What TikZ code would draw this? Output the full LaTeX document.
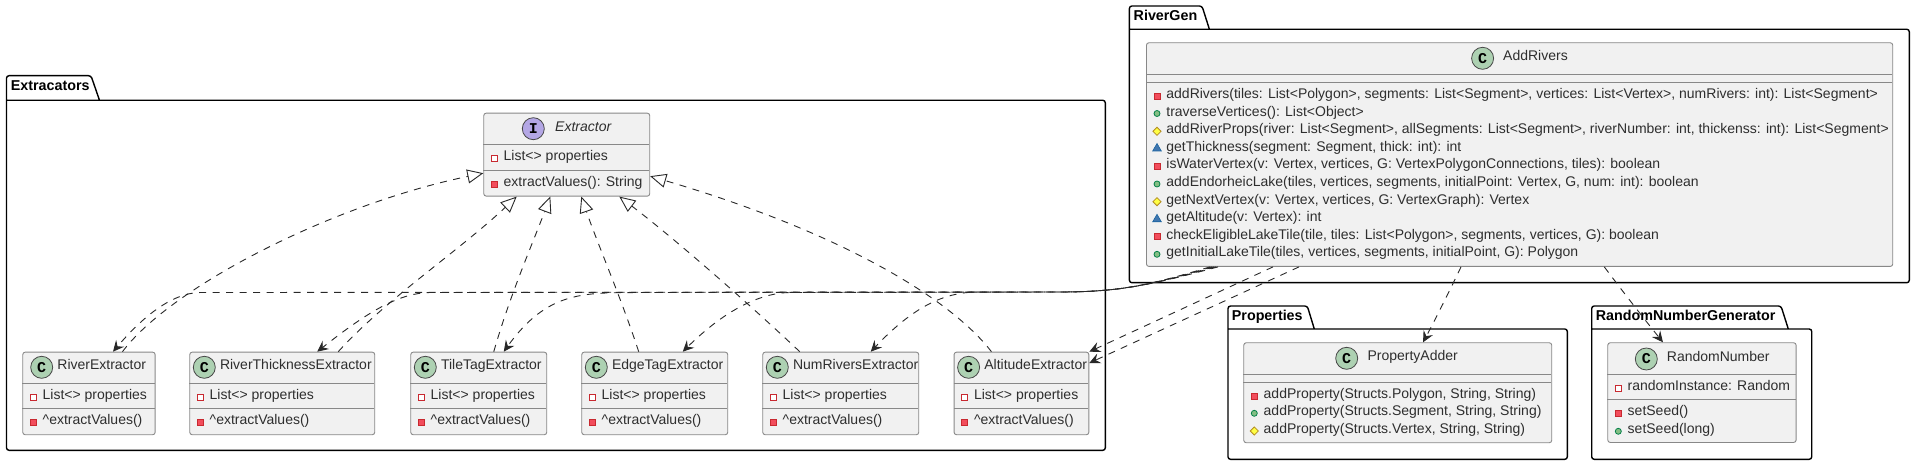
\documentclass[tikz,border=0pt]{standalone}
\usepackage{fontspec}
\setmainfont{Liberation Sans}
\setmonofont{Liberation Mono}
\usetikzlibrary{shapes.geometric, arrows.meta, positioning, calc}
\definecolor{umlBox}{RGB}{241, 241, 241}
\definecolor{umlBorder}{RGB}{136, 136, 136}
\definecolor{umlLine}{RGB}{40, 40, 40}
\definecolor{umlClassSpot}{RGB}{173, 209, 178}
\definecolor{umlIfaceSpot}{RGB}{180, 167, 229}
\definecolor{umlRed}{RGB}{242, 77, 92}
\definecolor{umlRedDark}{RGB}{200, 41, 48}
\definecolor{umlGreen}{RGB}{132, 190, 132}
\definecolor{umlGreenDark}{RGB}{3, 128, 72}
\definecolor{umlYellow}{RGB}{255, 255, 68}
\definecolor{umlYellowDark}{RGB}{179, 141, 34}
\definecolor{umlBlue}{RGB}{65, 119, 175}
\definecolor{umlBlueDark}{RGB}{25, 99, 160}
\newcommand{\memberrow}[5]{%
  \node[#4] (#1-icon) at (#2,#3) {};
  \node[memberlabel] (#1-text) at (#2+9.2,#3) {#5};}
\begin{document}
\begin{tikzpicture}[
    x=1pt, y=-1pt,
    pkgframe/.style={line width=1.4pt, rounded corners=2.5pt, black},
    pkglabel/.style={anchor=mid west, inner sep=0pt, font=\fontsize{14.3}{16}\selectfont\bfseries},
    classbox/.style={rectangle, anchor=north west, rounded corners=2.5pt, inner sep=0pt, fill=umlBox, draw=umlBorder, line width=0.9pt},
    sepline/.style={draw=umlBorder, line width=0.9pt},
    spot/.style={circle, minimum size=22pt, inner sep=0pt, fill=#1, draw=umlLine!85, line width=0.8pt, font=\fontsize{15}{16}\selectfont\ttfamily\bfseries},
    classname/.style={anchor=mid west, inner sep=0pt, font=\fontsize{14}{16}\selectfont, text=black!82},
    memberlabel/.style={anchor=mid west, inner sep=0pt, font=\fontsize{14}{16}\selectfont, text=black!82},
    privfield/.style={rectangle, minimum size=6pt, inner sep=0pt, fill=white, draw=umlRedDark, line width=0.8pt},
    privmethod/.style={rectangle, minimum size=6pt, inner sep=0pt, fill=umlRed, draw=umlRedDark, line width=0.8pt},
    pubmethod/.style={circle, minimum size=6pt, inner sep=0pt, fill=umlGreen, draw=umlGreenDark, line width=0.8pt},
    protmethod/.style={diamond, minimum size=8.5pt, inner sep=0pt, fill=umlYellow, draw=umlYellowDark, line width=0.8pt},
    pkgmethod/.style={regular polygon, regular polygon sides=3, minimum size=10pt, inner sep=0pt, fill=umlBlue, draw=umlBlueDark, line width=0.6pt},
    implarrow/.style={-{Triangle[open, fill=white, length=16pt, width=14pt]}, umlLine, line width=0.9pt, dash pattern=on 7pt off 6.5pt},
    deparrow/.style={-{Stealth[length=11pt, width=10.5pt, inset=4pt]}, umlLine, line width=0.9pt, dash pattern=on 7pt off 6.5pt}
  ]
  \useasboundingbox (0,0) rectangle (1915,465);

  % Packages
  \draw[pkgframe] (99.5,100.3) -- (91,75.7) -- (6.5,75.7) -- (6.5,450.3) -- (1105.3,450.3) -- (1105.3,100.3) -- (6.5,100.3);
  \node[pkglabel] (extracators) at (10.7,88.3) {Extracators};
  \draw[pkgframe] (1209.4,29.3) -- (1202,6) -- (1129.4,6) -- (1129.4,282.7) -- (1909.3,282.7) -- (1909.3,29.3) -- (1129.4,29.3);
  \node[pkglabel] (rivergen) at (1133.5,18.3) {RiverGen};
  \draw[pkgframe] (1314.3,329) -- (1307.3,306) -- (1228,306) -- (1228,459.3) -- (1567.3,459.3) -- (1567.3,329) -- (1228,329);
  \node[pkglabel] (properties) at (1231.7,318) {Properties};
  \draw[pkgframe] (1788.3,329) -- (1781,306) -- (1591.7,306) -- (1591.7,459.3) -- (1811.7,459.3) -- (1811.7,329) -- (1591.7,329);
  \node[pkglabel] (rngpkg) at (1595.7,318) {RandomNumberGenerator};

  % Interface
  \node[classbox, minimum width=166pt, minimum height=83pt] (extractor) at (483.3,112.7) {};
  \draw[sepline] (483.3,144.3) -- (649.3,144.3);
  \draw[sepline] (483.3,170.3) -- (649.3,170.3);
  \node[spot=umlIfaceSpot] (extractor-spot) at (533.3,128.7) {I};
  \node[classname, font=\fontsize{14}{16}\selectfont\itshape] (extractor-name) at (555,128.7) {Extractor};
  \memberrow{extractor-f}{494.3}{158.3}{privfield}{List<> properties}
  \memberrow{extractor-m}{494.3}{184.3}{privmethod}{extractValues(): String}

  % Extractor classes
  \foreach \cname/\cleft/\cwidth/\cspot/\ctitle in {
      river/22.3/132.4/19.4/RiverExtractor,
      thick/189.3/185/15/RiverThicknessExtractor,
      tile/410.3/136/15/TileTagExtractor,
      edge/581.3/146/15/EdgeTagExtractor,
      nums/762.3/156/15/NumRiversExtractor,
      alt/953.6/134.8/15/AltitudeExtractor} {
    \node[classbox, minimum width=\cwidth pt, minimum height=82.6pt] (\cname) at (\cleft,351.7) {};
    \draw[sepline] (\cleft,383.3) -- (\cleft+\cwidth,383.3);
    \draw[sepline] (\cleft,408.3) -- (\cleft+\cwidth,408.3);
    \node[spot=umlClassSpot] (\cname-spot) at (\cleft+\cspot,367.3) {C};
    \node[classname] (\cname-name) at (\cleft+\cspot+15.5,367.3) {\ctitle};
    \memberrow{\cname-f}{\cleft+11}{397.3}{privfield}{List<> properties}
    \memberrow{\cname-m}{\cleft+11}{422}{privmethod}{\textasciicircum extractValues()}
  }

  % AddRivers
  \node[classbox, minimum width=746.3pt, minimum height=223.7pt] (addrivers) at (1146,42.3) {};
  \draw[sepline] (1146,74.3) -- (1892.3,74.3);
  \draw[sepline] (1146,82.3) -- (1892.3,82.3);
  \node[spot=umlClassSpot] (addrivers-spot) at (1482.6,58.3) {C};
  \node[classname] (addrivers-name) at (1503,58.3) {AddRivers};
  \memberrow{add-a}{1157}{96.3}{privmethod}{addRivers(tiles: List<Polygon>, segments: List<Segment>, vertices: List<Vertex>, numRivers: int): List<Segment>}
  \memberrow{add-b}{1157}{113.5}{pubmethod}{traverseVertices(): List<Object>}
  \memberrow{add-c}{1157}{131.3}{protmethod}{addRiverProps(river: List<Segment>, allSegments: List<Segment>, riverNumber: int, thickenss: int): List<Segment>}
  \memberrow{add-d}{1157}{148.5}{pkgmethod}{getThickness(segment: Segment, thick: int): int}
  \memberrow{add-e}{1157}{166}{privmethod}{isWaterVertex(v: Vertex, vertices, G: VertexPolygonConnections, tiles): boolean}
  \memberrow{add-f}{1157}{184}{pubmethod}{addEndorheicLake(tiles, vertices, segments, initialPoint: Vertex, G, num: int): boolean}
  \memberrow{add-g}{1157}{201.7}{protmethod}{getNextVertex(v: Vertex, vertices, G: VertexGraph): Vertex}
  \memberrow{add-h}{1157}{219.3}{pkgmethod}{getAltitude(v: Vertex): int}
  \memberrow{add-i}{1157}{236.7}{privmethod}{checkEligibleLakeTile(tile, tiles: List<Polygon>, segments, vertices, G): boolean}
  \memberrow{add-j}{1157}{254.3}{pubmethod}{getInitialLakeTile(tiles, vertices, segments, initialPoint, G): Polygon}

  % PropertyAdder
  \node[classbox, minimum width=308pt, minimum height=100pt] (adder) at (1243.3,342.3) {};
  \draw[sepline] (1243.3,374.3) -- (1551.3,374.3);
  \draw[sepline] (1243.3,382.3) -- (1551.3,382.3);
  \node[spot=umlClassSpot] (adder-spot) at (1346.7,358.3) {C};
  \node[classname] (adder-name) at (1367.3,358.3) {PropertyAdder};
  \memberrow{adder-a}{1254.3}{396}{privmethod}{addProperty(Structs.Polygon, String, String)}
  \memberrow{adder-b}{1254.3}{413.3}{pubmethod}{addProperty(Structs.Segment, String, String)}
  \memberrow{adder-c}{1254.3}{431}{protmethod}{addProperty(Structs.Vertex, String, String)}

  % RandomNumber
  \node[classbox, minimum width=188.4pt, minimum height=99.7pt] (random) at (1607.3,342.3) {};
  \draw[sepline] (1607.3,374.3) -- (1795.7,374.3);
  \draw[sepline] (1607.3,399.3) -- (1795.7,399.3);
  \node[spot=umlClassSpot] (random-spot) at (1646.3,359) {C};
  \node[classname] (random-name) at (1666.7,359) {RandomNumber};
  \memberrow{random-a}{1618.3}{388.3}{privfield}{randomInstance: Random}
  \memberrow{random-b}{1618.3}{413.3}{privmethod}{setSeed()}
  \memberrow{random-c}{1618.3}{431.3}{pubmethod}{setSeed(long)}

  % Realizations
  \draw[implarrow] ([xshift=33.5pt]river.north) .. controls (170,288) and (330,205) .. ([yshift=23.4pt]extractor.south west);
  \draw[implarrow] ([xshift=56pt]thick.north) .. controls (385,300) and (460,250) .. ([xshift=33.4pt]extractor.south west);
  \draw[implarrow] ([xshift=15pt]tile.north) .. controls (510,295) and (532,245) .. ([xshift=67pt]extractor.south west);
  \draw[implarrow] ([xshift=-16pt]edge.north) .. controls (620,295) and (598,245) .. ([xshift=98pt]extractor.south west);
  \draw[implarrow] ([xshift=-41pt]nums.north) .. controls (745,300) and (670,235) .. ([xshift=136pt]extractor.south west);
  \draw[implarrow] ([xshift=-30pt]alt.north) .. controls (950,298) and (840,232) .. ([yshift=20.4pt]extractor.south east);

  % Dependencies
  \draw[deparrow] ([xshift=70pt]addrivers.south west) .. controls (1150,285) and (1120,292) .. (1060,292) -- (200,292.5) .. controls (170,293) and (140,320) .. ([xshift=90.7pt]river.north west);
  \draw[deparrow] ([xshift=68pt]addrivers.south west) .. controls (1150,285) and (1120,292) .. (1060,292) -- (430,292.5) .. controls (400,293) and (370,310) .. ([xshift=35pt]thick.north);
  \draw[deparrow] ([xshift=66pt]addrivers.south west) .. controls (1150,285) and (1120,292) .. (1060,292) -- (640,292.5) .. controls (585,293) and (548,290) .. ([xshift=25pt]tile.north);
  \draw[deparrow] ([xshift=72pt]addrivers.south west) .. controls (1150,285) and (1120,292) .. (1060,292) -- (790,292.5) .. controls (760,293) and (725,310) .. ([xshift=28pt]edge.north);
  \draw[deparrow] ([xshift=64pt]addrivers.south west) .. controls (1150,285) and (1120,292) .. (1060,292) -- (975,292) .. controls (945,293) and (915,305) .. ([xshift=30pt]nums.north);
  \draw[deparrow] ([xshift=127pt]addrivers.south west) -- (alt.north east);
  \draw[deparrow] ([xshift=153pt]addrivers.south west) -- ([yshift=-11.3pt]alt.north east);
  \draw[deparrow] ([xshift=315pt]addrivers.south west) .. controls (1450,290) and (1435,320) .. ([xshift=25.3pt]adder.north);
  \draw[deparrow] ([xshift=458.3pt]addrivers.south west) .. controls (1620,288) and (1645,320) .. ([xshift=-39pt]random.north);
\end{tikzpicture}
\end{document}
